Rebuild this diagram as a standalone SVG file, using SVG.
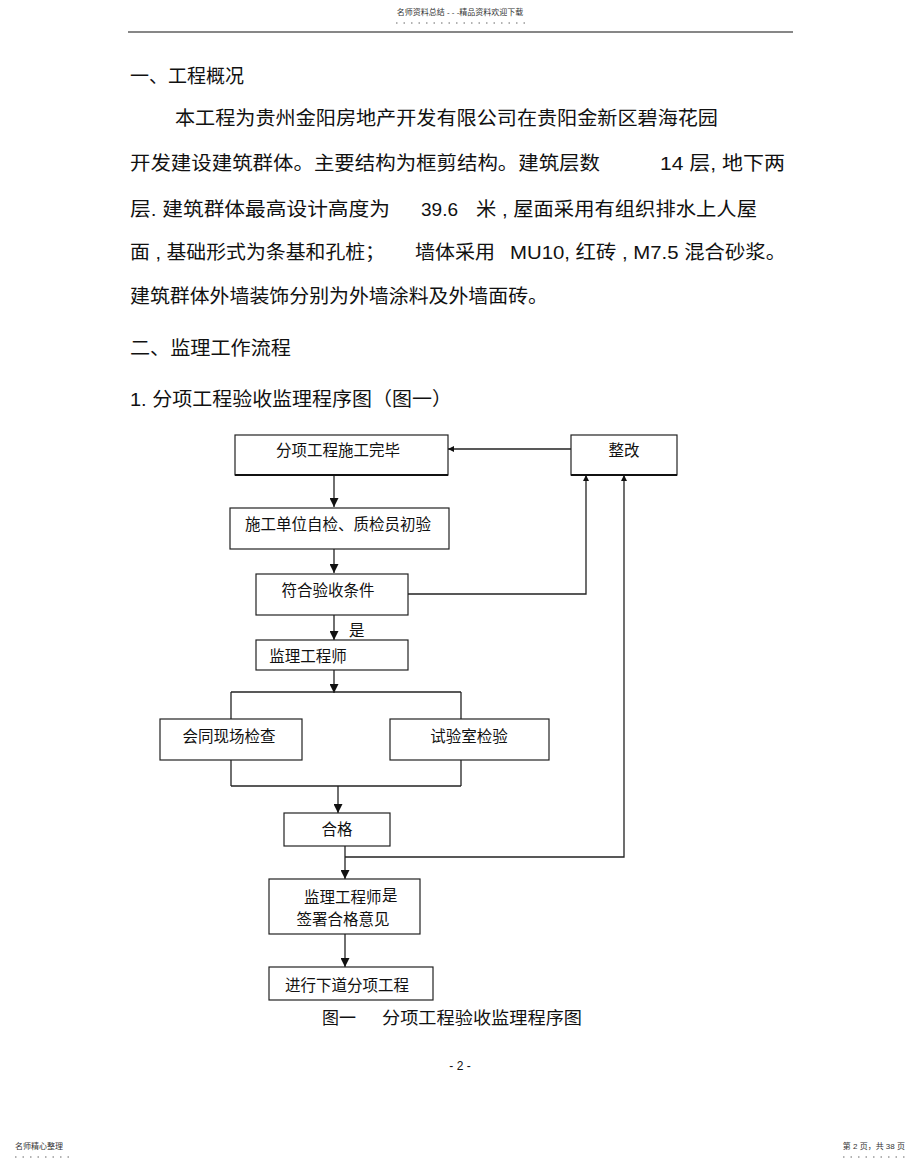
<svg xmlns="http://www.w3.org/2000/svg" width="920" height="1167" viewBox="0 0 920 1167">
<defs>
<marker id="ah" viewBox="0 0 10 10" refX="10" refY="5" markerWidth="6" markerHeight="6" markerUnits="userSpaceOnUse" orient="auto"><path d="M0,0 L10,5 L0,10 z" fill="#111"/></marker>
<marker id="ahs" viewBox="0 0 10 10" refX="10" refY="5" markerWidth="9" markerHeight="9" markerUnits="userSpaceOnUse" orient="auto"><path d="M0,0 L10,5 L0,10 z" fill="#111"/></marker>
</defs>
<style>
.t{font-family:"Liberation Sans","Noto Sans CJK SC",sans-serif;fill:#111}
.b{font-size:19px}
.n{font-size:15.5px}
.s{font-size:8px;fill:#333}
.box{fill:#fff;stroke:#222;stroke-width:1.2}
.ln{fill:none;stroke:#222;stroke-width:1.3}
.dot{stroke:#666;stroke-width:1;stroke-dasharray:1.5 6}
</style>
<rect width="920" height="1167" fill="#fff"/>
<!-- header -->
<text class="t s" x="460" y="15" text-anchor="middle">名师资料总结 - - -精品资料欢迎下载</text>
<line class="dot" x1="396" y1="23" x2="526" y2="23"/>
<line x1="128" y1="32" x2="793" y2="32" stroke="#111" stroke-width="1.2"/>
<!-- body text -->
<text class="t b" x="130" y="83">一、工程概况</text>
<text class="t b" x="175" y="125" textLength="543" lengthAdjust="spacingAndGlyphs">本工程为贵州金阳房地产开发有限公司在贵阳金新区碧海花园</text>
<text class="t b" x="130" y="170" textLength="470" lengthAdjust="spacingAndGlyphs">开发建设建筑群体。主要结构为框剪结构。建筑层数</text>
<text class="t b" x="660" y="170" textLength="125" lengthAdjust="spacingAndGlyphs">14 层, 地下两</text>
<text class="t b" x="130" y="216" textLength="260" lengthAdjust="spacingAndGlyphs">层. 建筑群体最高设计高度为</text>
<text class="t b" x="421" y="216">39.6</text>
<text class="t b" x="476" y="216" textLength="281" lengthAdjust="spacingAndGlyphs">米 , 屋面采用有组织排水上人屋</text>
<text class="t b" x="130" y="259" textLength="255" lengthAdjust="spacingAndGlyphs">面 , 基础形式为条基和孔桩；</text>
<text class="t b" x="415" y="259" textLength="80" lengthAdjust="spacingAndGlyphs">墙体采用</text>
<text class="t b" x="510" y="259" textLength="276" lengthAdjust="spacingAndGlyphs">MU10, 红砖 , M7.5 混合砂浆。</text>
<text class="t b" x="130" y="303" textLength="418" lengthAdjust="spacingAndGlyphs">建筑群体外墙装饰分别为外墙涂料及外墙面砖。</text>
<text class="t b" x="130" y="355" textLength="161" lengthAdjust="spacingAndGlyphs">二、监理工作流程</text>
<text class="t b" x="130" y="406" textLength="322" lengthAdjust="spacingAndGlyphs">1. 分项工程验收监理程序图（图一）</text>
<!-- connectors -->
<g id="connectors">
<line class="ln" x1="571" y1="449" x2="448" y2="449" marker-end="url(#ah)"/>
<line class="ln" x1="334" y1="475" x2="334" y2="507" marker-end="url(#ahs)"/>
<line class="ln" x1="334" y1="549" x2="334" y2="573" marker-end="url(#ahs)"/>
<polyline class="ln" points="408,594 586,594 586,475" marker-end="url(#ah)"/>
<line class="ln" x1="334" y1="615" x2="334" y2="640" marker-end="url(#ahs)"/>
<line class="ln" x1="334" y1="670" x2="334" y2="693" marker-end="url(#ahs)"/>
<line class="ln" x1="231" y1="692" x2="461" y2="692"/>
<line class="ln" x1="231" y1="692" x2="231" y2="719"/>
<line class="ln" x1="461" y1="692" x2="461" y2="719"/>
<line class="ln" x1="231" y1="760" x2="231" y2="786"/>
<line class="ln" x1="461" y1="760" x2="461" y2="786"/>
<line class="ln" x1="231" y1="786" x2="461" y2="786"/>
<line class="ln" x1="338" y1="786" x2="338" y2="813" marker-end="url(#ahs)"/>
<line class="ln" x1="345" y1="846" x2="345" y2="879" marker-end="url(#ahs)"/>
<polyline class="ln" points="345,857 624,857 624,475" marker-end="url(#ah)"/>
<line class="ln" x1="345" y1="934" x2="345" y2="967" marker-end="url(#ahs)"/>
<text class="t n" x="349" y="636">是</text>
</g>
<!-- nodes -->
<g id="n1"><rect class="box" x="235" y="435" width="213" height="40"/><line x1="235" y1="475" x2="448" y2="475" stroke="#111" stroke-width="2"/><text class="t n" x="338" y="456" text-anchor="middle">分项工程施工完毕</text></g>
<g id="n_fix"><rect class="box" x="571" y="435" width="106" height="40"/><line x1="571" y1="475" x2="677" y2="475" stroke="#111" stroke-width="2"/><text class="t n" x="624" y="456" text-anchor="middle">整改</text></g>
<g id="n2"><rect class="box" x="230" y="508" width="219" height="41"/><text class="t n" x="338" y="530" text-anchor="middle">施工单位自检、质检员初验</text></g>
<g id="n3"><rect class="box" x="256" y="574" width="152" height="41"/><text class="t n" x="328" y="596" text-anchor="middle">符合验收条件</text></g>
<g id="n4"><rect class="box" x="256" y="640" width="152" height="30"/><text class="t n" x="308" y="662" text-anchor="middle">监理工程师</text></g>
<g id="n5"><rect class="box" x="160" y="719" width="142" height="41"/><text class="t n" x="229" y="742" text-anchor="middle">会同现场检查</text></g>
<g id="n6"><rect class="box" x="390" y="719" width="159" height="41"/><text class="t n" x="469" y="742" text-anchor="middle">试验室检验</text></g>
<g id="n7"><rect class="box" x="284" y="813" width="106" height="33"/><text class="t n" x="337" y="835" text-anchor="middle">合格</text></g>
<g id="n8"><rect class="box" x="269" y="879" width="151" height="55"/><text class="t n" x="304" y="903">监理工程师</text><text class="t n" x="382" y="901">是</text><text class="t n" x="343" y="925" text-anchor="middle">签署合格意见</text></g>
<g id="n9"><rect class="box" x="269" y="967" width="164" height="33"/><text class="t n" x="347" y="991" text-anchor="middle">进行下道分项工程</text></g>
<text class="t" x="322" y="1024" style="font-size:17px">图一</text>
<text class="t" x="382" y="1024" style="font-size:17px" textLength="200" lengthAdjust="spacingAndGlyphs">分项工程验收监理程序图</text>
<text class="t" x="460" y="1070" text-anchor="middle" style="font-size:12px">- 2 -</text>
<!-- footer -->
<text class="t s" x="15" y="1149">名师精心整理</text>
<line class="dot" x1="15" y1="1157" x2="75" y2="1157"/>
<text class="t s" x="905" y="1149" text-anchor="end">第 2 页，共 38 页</text>
<line class="dot" x1="843" y1="1157" x2="905" y2="1157"/>
</svg>
